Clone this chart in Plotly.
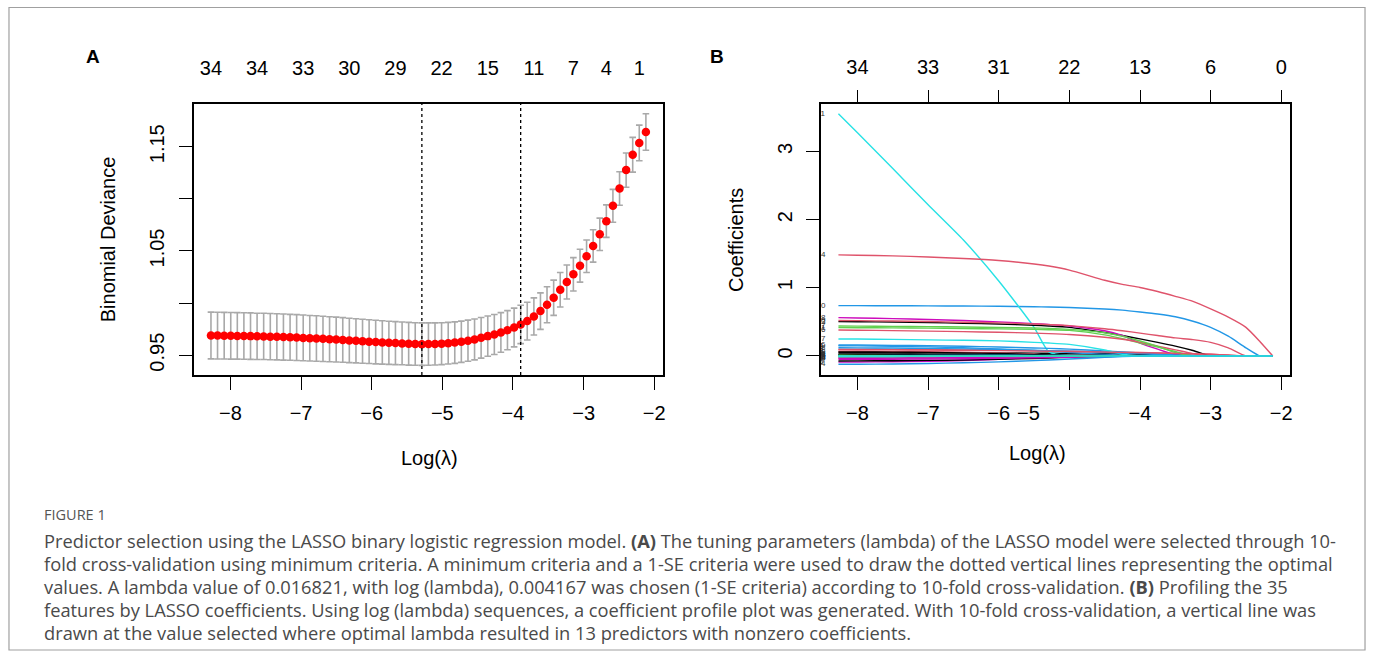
import plotly.graph_objects as go

# ---------------- Panel A data: cross-validation curve ----------------
log_lambda = [-8.276, -8.183, -8.089, -7.996, -7.903, -7.810, -7.716, -7.623, -7.530, -7.436,
              -7.343, -7.250, -7.156, -7.063, -6.970, -6.877, -6.783, -6.690, -6.597, -6.503,
              -6.410, -6.317, -6.223, -6.130, -6.037, -5.944, -5.850, -5.757, -5.664, -5.570,
              -5.477, -5.384, -5.290, -5.197, -5.104, -5.011, -4.917, -4.824, -4.731, -4.637,
              -4.544, -4.451, -4.357, -4.264, -4.171, -4.078, -3.984, -3.891, -3.798, -3.704,
              -3.611, -3.518, -3.424, -3.331, -3.238, -3.145, -3.051, -2.958, -2.865, -2.771,
              -2.678, -2.585, -2.491, -2.398, -2.305, -2.212, -2.118]
cv_mean = [0.9689, 0.9688, 0.9687, 0.9686, 0.9685, 0.9684, 0.9683, 0.9681, 0.9680, 0.9678,
           0.9676, 0.9674, 0.9672, 0.9669, 0.9666, 0.9663, 0.9660, 0.9657, 0.9653, 0.9650,
           0.9646, 0.9642, 0.9638, 0.9634, 0.9630, 0.9626, 0.9622, 0.9619, 0.9616, 0.9613,
           0.9610, 0.9608, 0.9606, 0.9607, 0.9608, 0.9611, 0.9615, 0.9621, 0.9629, 0.9639,
           0.9651, 0.9667, 0.9683, 0.9699, 0.9718, 0.9740, 0.9766, 0.9795, 0.9827, 0.9872,
           0.9923, 0.9984, 1.0051, 1.0128, 1.0202, 1.0276, 1.0359, 1.0449, 1.0548, 1.0660,
           1.0786, 1.0933, 1.1099, 1.1276, 1.1423, 1.1536, 1.1641]
cv_se = [0.0224, 0.0224, 0.0224, 0.0224, 0.0223, 0.0223, 0.0223, 0.0222, 0.0222, 0.0222,
         0.0221, 0.0221, 0.0220, 0.0220, 0.0219, 0.0218, 0.0218, 0.0217, 0.0216, 0.0215,
         0.0214, 0.0213, 0.0212, 0.0211, 0.0210, 0.0209, 0.0208, 0.0207, 0.0206, 0.0205,
         0.0205, 0.0204, 0.0204, 0.0203, 0.0202, 0.0201, 0.0200, 0.0199, 0.0198, 0.0197,
         0.0196, 0.0195, 0.0193, 0.0192, 0.0190, 0.0188, 0.0186, 0.0184, 0.0181, 0.0178,
         0.0175, 0.0172, 0.0169, 0.0166, 0.0163, 0.0160, 0.0158, 0.0156, 0.0155, 0.0155,
         0.0156, 0.0158, 0.0161, 0.0164, 0.0167, 0.0171, 0.0175]
lambda_min_log = -5.290
lambda_1se_log = -3.891

A_bottom_ticks = [-8, -7, -6, -5, -4, -3, -2]
A_bottom_labels = ["\u22128", "\u22127", "\u22126", "\u22125", "\u22124", "\u22123", "\u22122"]
A_top_ticks = [-8.276, -7.623, -6.970, -6.317, -5.664, -5.011, -4.357, -3.704, -3.145, -2.678, -2.212]
A_top_labels = ["34", "34", "33", "30", "29", "22", "15", "11", "7", "4", "1"]
A_y_ticks = [0.95, 1.00, 1.05, 1.10, 1.15]
A_y_labels = ["0.95", "", "1.05", "", "1.15"]

# ---------------- Panel B data: coefficient paths ----------------
path_x = [-8.27, -8.0, -7.5, -7.0, -6.5, -6.0, -5.5, -5.29, -5.0, -4.5,
          -4.25, -4.0, -3.75, -3.5, -3.25, -3.0, -2.75, -2.5, -2.3, -2.12]
v01 = [0.05, 0.05, 0.049, 0.048, 0.047, 0.045, 0.042, 0.04, 0.037, 0.032, 0.029, 0.025, 0.02, 0.015, 0.009, 0.004, 0, 0, 0, 0]
v02 = [0.07, 0.069, 0.066, 0.062, 0.055, 0.044, 0.025, 0.012, 0, 0, 0, 0, 0, 0, 0, 0, 0, 0, 0, 0]
v03 = [-0.005, -0.005, -0.005, -0.004, -0.004, -0.003, -0.002, -0.001, 0, 0, 0, 0, 0, 0, 0, 0, 0, 0, 0, 0]
v04 = [0.15, 0.148, 0.142, 0.133, 0.12, 0.103, 0.08, 0.07, 0.05, 0.022, 0.008, 0, 0, 0, 0, 0, 0, 0, 0, 0]
v05 = [0.005, 0.005, 0.005, 0.004, 0.003, 0.002, 0.001, 0, 0, 0, 0, 0, 0, 0, 0, 0, 0, 0, 0, 0]
v06 = [-0.09, -0.089, -0.085, -0.078, -0.067, -0.05, -0.025, -0.012, 0, 0, 0, 0, 0, 0, 0, 0, 0, 0, 0, 0]
v07 = [-0.073, -0.072, -0.069, -0.065, -0.058, -0.049, -0.036, -0.03, -0.02, -0.008, -0.003, 0, 0, 0, 0, 0, 0, 0, 0, 0]
v08 = [0.10, 0.099, 0.097, 0.094, 0.09, 0.085, 0.078, 0.075, 0.07, 0.06, 0.055, 0.05, 0.045, 0.04, 0.034, 0.025, 0.012, 0, 0, 0]
v09 = [0.02, 0.02, 0.019, 0.018, 0.016, 0.013, 0.008, 0.005, 0, 0, 0, 0, 0, 0, 0, 0, 0, 0, 0, 0]
v10 = [0.739, 0.738, 0.737, 0.735, 0.733, 0.729, 0.722, 0.718, 0.71, 0.69, 0.672, 0.645, 0.615, 0.575, 0.51, 0.42, 0.29, 0.12, 0, 0]
v11 = [3.554, 3.276, 2.749, 2.217, 1.70, 1.10, 0.42, 0.06, 0, 0, 0, 0, 0, 0, 0, 0, 0, 0, 0, 0]
v12 = [-0.02, -0.02, -0.019, -0.018, -0.016, -0.014, -0.011, -0.01, -0.008, -0.004, -0.002, 0, 0, 0, 0, 0, 0, 0, 0, 0]
v13 = [0.504, 0.502, 0.498, 0.49, 0.48, 0.468, 0.45, 0.44, 0.42, 0.345, 0.30, 0.25, 0.20, 0.145, 0.08, 0, 0, 0, 0, 0]
v14 = [1.483, 1.478, 1.468, 1.452, 1.43, 1.40, 1.35, 1.32, 1.26, 1.11, 1.05, 1.005, 0.945, 0.875, 0.80, 0.69, 0.57, 0.42, 0.21, 0]
v15 = [-0.03, -0.03, -0.029, -0.027, -0.025, -0.022, -0.018, -0.016, -0.013, -0.006, -0.002, 0, 0, 0, 0, 0, 0, 0, 0, 0]
v16 = [0.162, 0.16, 0.156, 0.15, 0.142, 0.132, 0.118, 0.112, 0.10, 0.075, 0.06, 0.045, 0.03, 0.018, 0.008, 0, 0, 0, 0, 0]
v17 = [0.25, 0.248, 0.243, 0.236, 0.23, 0.222, 0.20, 0.19, 0.17, 0.088, 0.025, 0, 0, 0, 0, 0, 0, 0, 0, 0]
v18 = [0.563, 0.558, 0.548, 0.535, 0.52, 0.50, 0.475, 0.462, 0.44, 0.37, 0.30, 0.19, 0.10, 0.02, 0, 0, 0, 0, 0, 0]
v19 = [0.06, 0.059, 0.057, 0.053, 0.046, 0.036, 0.02, 0.01, 0, 0, 0, 0, 0, 0, 0, 0, 0, 0, 0, 0]
v20 = [0.52, 0.518, 0.512, 0.505, 0.495, 0.485, 0.47, 0.46, 0.445, 0.40, 0.37, 0.335, 0.30, 0.265, 0.24, 0.20, 0.12, 0, 0, 0]
v21 = [0.416, 0.415, 0.412, 0.408, 0.403, 0.397, 0.39, 0.385, 0.375, 0.31, 0.255, 0.19, 0.13, 0.065, 0, 0, 0, 0, 0, 0]
v22 = [0.12, 0.119, 0.116, 0.111, 0.104, 0.095, 0.083, 0.078, 0.07, 0.052, 0.042, 0.032, 0.022, 0.013, 0.005, 0, 0, 0, 0, 0]
v23 = [0.01, 0.01, 0.009, 0.008, 0.007, 0.005, 0.003, 0.001, 0, 0, 0, 0, 0, 0, 0, 0, 0, 0, 0, 0]
v24 = [-0.035, -0.034, -0.032, -0.029, -0.024, -0.017, -0.008, -0.003, 0, 0, 0, 0, 0, 0, 0, 0, 0, 0, 0, 0]
v25 = [0.03, 0.03, 0.029, 0.027, 0.025, 0.022, 0.018, 0.016, 0.013, 0.007, 0.003, 0, 0, 0, 0, 0, 0, 0, 0, 0]
v26 = [0.38, 0.378, 0.372, 0.365, 0.357, 0.348, 0.335, 0.328, 0.315, 0.275, 0.245, 0.20, 0.145, 0.09, 0.035, 0, 0, 0, 0, 0]
v27 = [0.44, 0.438, 0.434, 0.43, 0.425, 0.418, 0.41, 0.405, 0.39, 0.34, 0.29, 0.22, 0.14, 0.05, 0, 0, 0, 0, 0, 0]
v28 = [0.015, 0.015, 0.014, 0.013, 0.012, 0.011, 0.009, 0.008, 0.006, 0.003, 0.001, 0, 0, 0, 0, 0, 0, 0, 0, 0]
v29 = [-0.01, -0.009, -0.007, -0.005, -0.002, 0, 0, 0, 0, 0, 0, 0, 0, 0, 0, 0, 0, 0, 0, 0]
v30 = [-0.05, -0.049, -0.047, -0.044, -0.04, -0.034, -0.027, -0.024, -0.018, -0.008, -0.003, 0, 0, 0, 0, 0, 0, 0, 0, 0]
v31 = [0.02, 0.019, 0.016, 0.012, 0.006, 0, 0, 0, 0, 0, 0, 0, 0, 0, 0, 0, 0, 0, 0, 0]
v32 = [0.093, 0.092, 0.09, 0.087, 0.083, 0.078, 0.072, 0.069, 0.065, 0.057, 0.053, 0.048, 0.043, 0.038, 0.032, 0.025, 0.015, 0, 0, 0]
v33 = [0.01, 0.008, 0.004, 0, 0, 0, 0, 0, 0, 0, 0, 0, 0, 0, 0, 0, 0, 0, 0, 0]
v34 = [-0.122, -0.121, -0.117, -0.11, -0.10, -0.087, -0.068, -0.059, -0.045, -0.02, -0.008, 0, 0, 0, 0, 0, 0, 0, 0, 0]
v35 = [0, 0, 0, 0, 0, 0, 0, 0, 0, 0, 0, 0, 0, 0, 0, 0, 0, 0, 0, 0]
paths = [v01, v02, v03, v04, v05, v06, v07, v08, v09, v10, v11, v12, v13, v14, v15, v16, v17, v18,
         v19, v20, v21, v22, v23, v24, v25, v26, v27, v28, v29, v30, v31, v32, v33, v34, v35]

B_bottom_ticks = [-8, -7, -6, -5, -4, -3, -2]
B_bottom_labels = ["\u22128", "\u22127", "\u22126", "", "\u22124", "\u22123", "\u22122"]
B_extra_label = "\u22125"
B_extra_label_x = -5.575
B_top_ticks = [-8, -7, -6, -5, -4, -3, -2]
B_top_labels = ["34", "33", "31", "22", "13", "6", "0"]
B_y_ticks = [0, 1, 2, 3]
B_y_labels = ["0", "1", "2", "3"]

caption_head = "FIGURE 1"
caption_lines = [
    "Predictor selection using the LASSO binary logistic regression model. <b>(A)</b> The tuning parameters (lambda) of the LASSO model were selected through 10-",
    "fold cross-validation using minimum criteria. A minimum criteria and a 1-SE criteria were used to draw the dotted vertical lines representing the optimal",
    "values. A lambda value of 0.016821, with log (lambda), 0.004167 was chosen (1-SE criteria) according to 10-fold cross-validation. <b>(B)</b> Profiling the 35",
    "features by LASSO coefficients. Using log (lambda) sequences, a coefficient profile plot was generated. With 10-fold cross-validation, a vertical line was",
    "drawn at the value selected where optimal lambda resulted in 13 predictors with nonzero coefficients.",
]

# ---------------- styling ----------------
W, H = 1376, 658
R_COLS = ["#000000", "#DF536B", "#61D04F", "#2297E6", "#28E2E5", "#CD0BBC"]
FONT = "Liberation Sans, Arial, sans-serif"
CAP_FONT = "Open Sans, Lato, sans-serif"

def px_x(p):
    return p / W

def px_y(p):
    return 1 - p / H

A_dom_x = [px_x(194.3), px_x(664.3)]
B_dom_x = [px_x(822.7), px_x(1292.7)]
dom_y = [px_y(375), px_y(104)]
x_range = [-8.518, -1.878]
A_y_range = [0.931, 1.191]
B_y_range = [-0.279, 3.696]

fig = go.Figure()

# Panel A
fig.add_trace(go.Scatter(
    x=log_lambda, y=cv_mean, mode="markers", xaxis="x", yaxis="y",
    marker=dict(color="#FF0000", size=8.5, line=dict(width=0)),
    error_y=dict(type="data", array=cv_se, visible=True, color="#A9A9A9", thickness=1.6, width=3.3),
    showlegend=False, hoverinfo="skip"))
fig.add_trace(go.Scatter(
    x=[x_range[0], x_range[1]], y=[A_y_range[0], A_y_range[1]], mode="markers",
    xaxis="x2", yaxis="y", marker=dict(opacity=0), showlegend=False, hoverinfo="skip"))

# Panel B
for i, vals in enumerate(paths):
    fig.add_trace(go.Scatter(
        x=path_x, y=vals, mode="lines", xaxis="x3", yaxis="y2",
        line=dict(color=R_COLS[i % 6], width=1.4, shape="spline", smoothing=0.6),
        showlegend=False, hoverinfo="skip"))
fig.add_trace(go.Scatter(
    x=[x_range[0]] * len(paths), y=[p[0] for p in paths], mode="text",
    text=[str(i + 1) for i in range(len(paths))], textposition="middle center",
    textfont=dict(size=8, color="#333333", family=FONT), cliponaxis=True,
    xaxis="x3", yaxis="y2", showlegend=False, hoverinfo="skip"))
fig.add_trace(go.Scatter(
    x=[x_range[0], x_range[1]], y=[B_y_range[0], B_y_range[1]], mode="markers",
    xaxis="x4", yaxis="y2", marker=dict(opacity=0), showlegend=False, hoverinfo="skip"))

axis_common = dict(showgrid=False, zeroline=False, showline=True, linecolor="black", linewidth=1.5,
                   mirror=True, ticks="outside", ticklen=13, tickwidth=1.4, tickcolor="black",
                   tickfont=dict(family=FONT, size=20, color="black"))
top_common = dict(showgrid=False, zeroline=False, showline=False,
                  tickfont=dict(family=FONT, size=20, color="black"))

fig.update_layout(
    width=W, height=H, margin=dict(l=0, r=0, t=0, b=0),
    paper_bgcolor="white", plot_bgcolor="white",
    xaxis=dict(domain=A_dom_x, range=x_range, anchor="y", tickmode="array",
               tickvals=A_bottom_ticks, ticktext=A_bottom_labels, ticklabelstandoff=6, **axis_common),
    yaxis=dict(domain=dom_y, range=A_y_range, anchor="x", tickmode="array",
               tickvals=A_y_ticks, ticktext=A_y_labels, tickangle=-90, ticklabelstandoff=7, **axis_common),
    xaxis2=dict(overlaying="x", side="top", anchor="y", range=x_range, tickmode="array",
                tickvals=A_top_ticks, ticktext=A_top_labels, ticks="", ticklabelstandoff=24, **top_common),
    xaxis3=dict(domain=B_dom_x, range=x_range, anchor="y2", tickmode="array",
                tickvals=B_bottom_ticks, ticktext=B_bottom_labels, ticklabelstandoff=6, **axis_common),
    yaxis2=dict(domain=dom_y, range=B_y_range, anchor="x3", tickmode="array",
                tickvals=B_y_ticks, ticktext=B_y_labels, tickangle=-90, ticklabelstandoff=6, **axis_common),
    xaxis4=dict(overlaying="x3", side="top", anchor="y2", range=x_range, tickmode="array",
                tickvals=B_top_ticks, ticktext=B_top_labels, ticks="outside", ticklen=13, tickwidth=1.4,
                tickcolor="black", ticklabelstandoff=8, **top_common),
)

shapes = []
for xv in [lambda_min_log, lambda_1se_log]:
    shapes.append(dict(type="line", xref="x", yref="y domain", x0=xv, x1=xv, y0=0, y1=1,
                       line=dict(color="black", width=1.3, dash="dot")))
shapes.append(dict(type="rect", xref="paper", yref="paper", x0=px_x(9), x1=px_x(1368),
                   y0=px_y(650), y1=px_y(7.5), line=dict(color="#A0A0A0", width=1.2)))
fig.update_layout(shapes=shapes)

def note(text, x, y, size, color="black", family=FONT, xanchor="center", angle=0, xref="paper"):
    return dict(text=text, x=x, y=y, xref=xref, yref="paper", showarrow=False,
                xanchor=xanchor, yanchor="middle", textangle=angle,
                font=dict(family=family, size=size, color=color))

ann = [
    note("<b>A</b>", px_x(93), px_y(57), 19),
    note("<b>B</b>", px_x(719), px_y(56), 19),
    note("Log(\u03bb)", px_x(430), px_y(458), 20),
    note("Log(\u03bb)", px_x(1040), px_y(453), 20),
    note("Binomial Deviance", px_x(108), px_y(239.5), 20, angle=-90),
    note("Coefficients", px_x(737), px_y(239.5), 20, angle=-90),
    note(B_extra_label, B_extra_label_x, px_y(413), 20, xref="x3"),
    note(caption_head, px_x(42), px_y(514), 14.5, color="#555555", family=CAP_FONT, xanchor="left"),
]
for k, line in enumerate(caption_lines):
    ann.append(note(line, px_x(42), px_y(540 + 23 * k), 18.3, color="#4a4a4a", family=CAP_FONT, xanchor="left"))
fig.update_layout(annotations=ann)

fig.write_html("out.html", config={"displayModeBar": False},
               post_script="document.body.style.margin='0px';document.body.style.padding='0px';")
